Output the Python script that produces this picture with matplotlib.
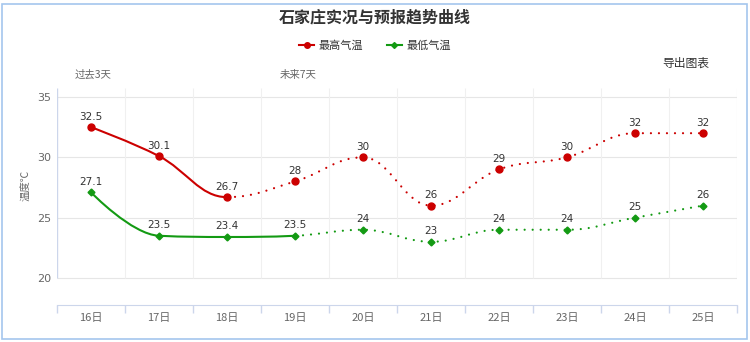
import matplotlib
matplotlib.use("Agg")
import matplotlib.pyplot as plt
from matplotlib.path import Path
from matplotlib.patches import PathPatch, Rectangle
from matplotlib.lines import Line2D
import numpy as np

plt.rcParams['font.family'] = ['Noto Sans CJK SC', 'DejaVu Sans']

# data ---------------------------------------------------------------
days = ['16日', '17日', '18日', '19日', '20日', '21日', '22日', '23日', '24日', '25日']
high = [32.5, 30.1, 26.7, 28, 30, 26, 29, 30, 32, 32]
low = [27.1, 23.5, 23.4, 23.5, 24, 23, 24, 24, 25, 26]
high_label = ['32.5', '30.1', '26.7', '28', '30', '26', '29', '30', '32', '32']
low_label = ['27.1', '23.5', '23.4', '23.5', '24', '23', '24', '24', '25', '26']
high_solid = 2   # last index drawn as observed (solid)
low_solid = 3
y_ticks = [20, 25, 30, 35]

RED = '#cc0000'
GREEN = '#139a13'
AXIS = '#ccd6eb'
GRID = '#e6e6e6'


def spline_ctrl(xs, ys, smooth=1.5):
    # same control points as a highcharts "spline" series
    n = len(xs)
    lc = [(xs[i], ys[i]) for i in range(n)]
    rc = [(xs[i], ys[i]) for i in range(n)]
    d = smooth + 1
    for i in range(1, n - 1):
        px, py = xs[i], ys[i]
        lx, ly = xs[i - 1], ys[i - 1]
        nx, ny = xs[i + 1], ys[i + 1]
        lcx = (smooth * px + lx) / d
        lcy = (smooth * py + ly) / d
        rcx = (smooth * px + nx) / d
        rcy = (smooth * py + ny) / d
        if rcx != lcx:
            corr = (rcy - lcy) * (rcx - px) / (rcx - lcx) + py - rcy
            lcy += corr
            rcy += corr
        if lcy > ly and lcy > py:
            lcy = max(ly, py); rcy = 2 * py - lcy
        elif lcy < ly and lcy < py:
            lcy = min(ly, py); rcy = 2 * py - lcy
        if rcy > ny and rcy > py:
            rcy = max(ny, py); lcy = 2 * py - rcy
        elif rcy < ny and rcy < py:
            rcy = min(ny, py); lcy = 2 * py - rcy
        lc[i] = (lcx, lcy)
        rc[i] = (rcx, rcy)
    return lc, rc


def spline_path(xs, ys, i0, i1):
    lc, rc = spline_ctrl(xs, ys)
    verts = [(xs[i0], ys[i0])]
    codes = [Path.MOVETO]
    for i in range(i0 + 1, i1 + 1):
        verts += [rc[i - 1], lc[i], (xs[i], ys[i])]
        codes += [Path.CURVE4] * 3
    return Path(verts, codes)


fig = plt.figure(figsize=(7.5, 3.42), dpi=100)
W, H = 750, 342
ax = fig.add_axes([57 / W, 1 - 305 / H, 680 / W, 217 / H])

x = np.arange(len(days))
ytop = 35 + 9 / 12.07
ybot = 20 - 27 / 12.07
ax.set_xlim(-0.5, len(days) - 0.5)
ax.set_ylim(ybot, ytop)

for s in ax.spines.values():
    s.set_visible(False)
ax.spines['bottom'].set_visible(True)
ax.spines['bottom'].set_color(AXIS)

# grid
ax.hlines(y_ticks, -0.5, len(days) - 0.5, color=GRID, lw=0.8, zorder=1)
ax.vlines(np.arange(0.5, len(days) - 1, 1), 20, ytop, color='#f0f0f0', lw=0.8, zorder=1)
ax.vlines([-0.5], 20, ytop, color=AXIS, lw=1, zorder=1)
ax.vlines([len(days) - 0.5], 20, ytop, color=GRID, lw=0.8, zorder=1)

ax.set_yticks(y_ticks)
ax.set_yticklabels([str(v) for v in y_ticks], family='DejaVu Sans')
ax.tick_params(axis='y', length=0, pad=4, labelsize=8, labelcolor='#666666')
ax.set_xticks(x)
ax.set_xticklabels(days)
ax.tick_params(axis='x', which='major', length=0, pad=6, labelsize=8, labelcolor='#666666')
ax.set_xticks(np.arange(-0.5, len(days), 1), minor=True)
ax.tick_params(axis='x', which='minor', length=6, color=AXIS, width=1, direction='out')

# curves
for ys, col, k in [(high, RED, high_solid), (low, GREEN, low_solid)]:
    ax.add_patch(PathPatch(spline_path(x, ys, 0, k), fill=False, edgecolor=col,
                           lw=1.5, capstyle='round', zorder=3))
    ax.add_patch(PathPatch(spline_path(x, ys, k, len(ys) - 1), fill=False, edgecolor=col,
                           lw=1.6, linestyle=(0, (0.01, 3.6)), capstyle='round', zorder=3))

ax.plot(x, high, 'o', color=RED, ms=5, zorder=4)
ax.plot(x, low, 'D', color=GREEN, ms=3.5, zorder=4)

for xi, yi, t in zip(x, high, high_label):
    ax.annotate(t, (xi, yi), xytext=(0, 4), textcoords='offset points', family='DejaVu Sans',
                ha='center', va='bottom', fontsize=7.5, color='#333333', zorder=5)
for xi, yi, t in zip(x, low, low_label):
    ax.annotate(t, (xi, yi), xytext=(0, 4), textcoords='offset points', family='DejaVu Sans',
                ha='center', va='bottom', fontsize=7.5, color='#333333', zorder=5)

# texts
fig.text(0.5, 1 - 17 / H, '石家庄实况与预报趋势曲线', ha='center', va='center',
         fontsize=11.5, fontweight='bold', color='#333333')
fig.text(686 / W, 1 - 63 / H, '导出图表', ha='center', va='center', fontsize=8.5, color='#333333')
fig.text(93 / W, 1 - 75 / H, '过去3天', ha='center', va='center', fontsize=7.5, color='#666666')
fig.text(298 / W, 1 - 75 / H, '未来7天', ha='center', va='center', fontsize=7.5, color='#666666')
fig.text(27 / W, 1 - 185 / H, '温度℃', ha='center', va='center', rotation=90,
         fontsize=7.5, color='#666666')

handles = [Line2D([], [], color=RED, lw=1.5, marker='o', ms=4),
           Line2D([], [], color=GREEN, lw=1.5, marker='D', ms=3)]
fig.legend(handles, ['最高气温', '最低气温'], loc='center', bbox_to_anchor=(0.5, 1 - 46 / H),
           ncol=2, frameon=False, fontsize=8, handlelength=1.3, handletextpad=0.4,
           columnspacing=2.2, labelcolor='#333333')

fig.patches.append(Rectangle((2 / W, 3 / H), 745 / W, 335 / H, transform=fig.transFigure,
                             fill=False, edgecolor='#a4c6ee', lw=1.2))

fig.savefig('out.png', dpi=100)
